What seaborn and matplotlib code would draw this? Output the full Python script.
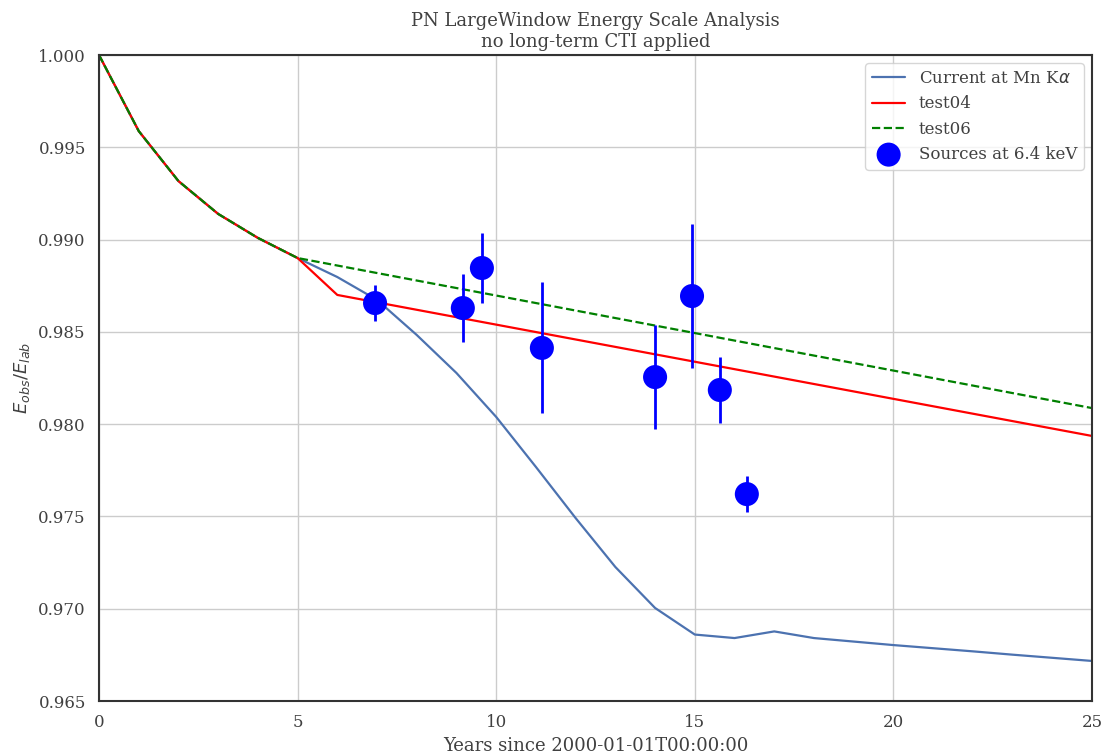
import numpy as np
import pandas as pd
import matplotlib
matplotlib.use("Agg")
import matplotlib.pyplot as plt
import seaborn as sns

# Current energy-scale model at Mn K-alpha
years_current = [0, 1, 2, 3, 4, 5, 6, 7, 8, 9, 10, 11, 12, 13, 14, 15, 16, 17, 18, 19, 20, 21, 22, 23, 24, 25]
scale_current = [1.0000, 0.99588, 0.99317, 0.99139, 0.99009, 0.98900, 0.98797, 0.98673,
                 0.98483, 0.98277, 0.98039, 0.97768, 0.97491, 0.97226, 0.97004, 0.96860,
                 0.96841, 0.96877, 0.96841, 0.96822, 0.96803, 0.96786, 0.96769, 0.96751,
                 0.96734, 0.96717]

# Test models
years_test04 = [0, 1, 2, 3, 4, 5, 6, 25]
scale_test04 = [1.0000, 0.99588, 0.99317, 0.99139, 0.99009, 0.98900, 0.98700, 0.97936]

years_test06 = [0, 1, 2, 3, 4, 5, 25]
scale_test06 = [1.0000, 0.99588, 0.99317, 0.99139, 0.99009, 0.98900, 0.98087]

# Measured sources at 6.4 keV
src_years = [6.95, 9.16, 9.64, 11.15, 14.00, 14.93, 15.63, 16.31]
src_scale = [0.98656, 0.98629, 0.98846, 0.98413, 0.98255, 0.98694, 0.98185, 0.97621]
src_err = [0.00098, 0.00185, 0.00192, 0.00355, 0.00280, 0.00390, 0.00180, 0.00098]

sns.set_theme(style="whitegrid", context="notebook")
plt.rcParams["font.family"] = ["DejaVu Serif"]
plt.rcParams["axes.edgecolor"] = "0.2"
plt.rcParams["axes.linewidth"] = 1.5

text_color = "0.25"

fig = plt.figure(figsize=(11.03, 7.53), dpi=100)
ax = fig.add_axes([99 / 1103, 1 - 701 / 753, (1092 - 99) / 1103, (701 - 55) / 753])

sns.lineplot(x=years_current, y=scale_current, ax=ax, color="#4c72b0", lw=1.6,
             label=r"Current at Mn K$\alpha$")
sns.lineplot(x=years_test04, y=scale_test04, ax=ax, color="red", lw=1.6, label="test04")
sns.lineplot(x=years_test06, y=scale_test06, ax=ax, color="green", lw=1.6,
             linestyle="--", label="test06")

ax.errorbar(src_years, src_scale, yerr=src_err, fmt="none", ecolor="blue", elinewidth=2,
            capsize=0, zorder=4)
sns.scatterplot(x=src_years, y=src_scale, ax=ax, color="blue", s=300, edgecolor="none",
                zorder=5, label="Sources at 6.4 keV")

ax.set_xlim(0, 25)
ax.set_ylim(0.965, 1.0)
ax.set_xticks([0, 5, 10, 15, 20, 25])
ax.set_yticks(np.arange(0.965, 1.0001, 0.005))
ax.yaxis.set_major_formatter(matplotlib.ticker.FormatStrFormatter("%.3f"))
ax.tick_params(labelsize=12, colors=text_color)

ax.set_title("PN LargeWindow Energy Scale Analysis\nno long-term CTI applied", fontsize=13,
             color=text_color)
ax.set_xlabel("Years since 2000-01-01T00:00:00", fontsize=13, color=text_color)
ax.set_ylabel(r"$E_{obs}/E_{lab}$", fontsize=13, color=text_color)

for s in ax.spines.values():
    s.set_visible(True)
    s.set_color("0.2")

leg = ax.legend(loc="upper right", fontsize=12, frameon=True)
for t in leg.get_texts():
    t.set_color(text_color)

fig.savefig("out.png", dpi=100)
